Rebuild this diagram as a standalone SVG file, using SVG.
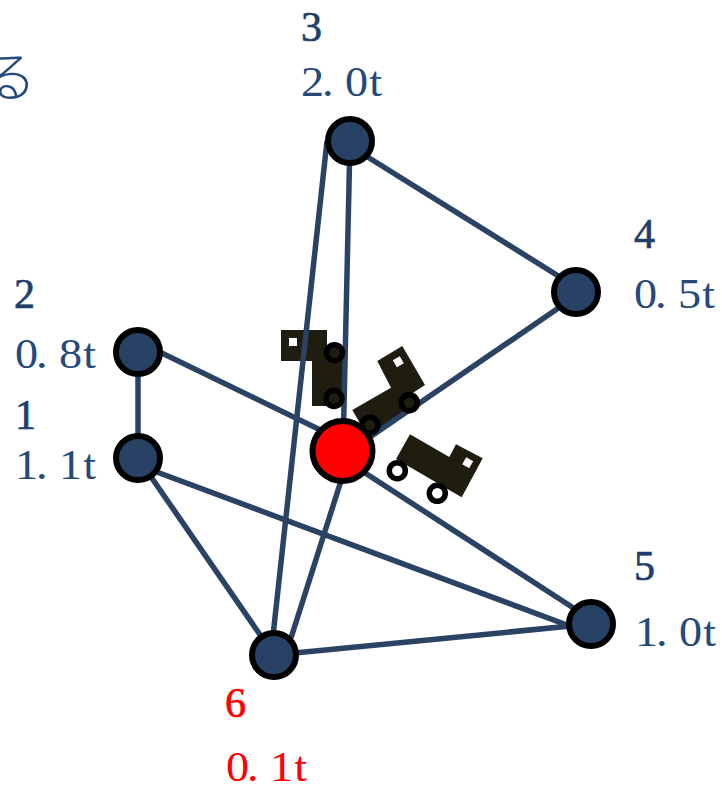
<svg xmlns="http://www.w3.org/2000/svg" width="722" height="785" viewBox="0 0 722 785">
<style>
.n{fill:#274264;stroke:#000;stroke-width:6}
.c{fill:#f00;stroke:#000;stroke-width:6}
.l{fill:none;stroke:#2a4365;stroke-width:5.500}
.t{fill:#1f1c10}
.w{fill:#fff}
.wd{fill:#1f1c10;stroke:#000;stroke-width:5.500}
.wl{fill:#fff;stroke:#000;stroke-width:5.500}
.v{font-family:'Liberation Serif',serif;font-size:42px;fill:#24497a}
.num{font-family:'Liberation Serif',serif;font-size:42px;fill:#1e3f6b;stroke:#1e3f6b;stroke-width:.7}
.red{fill:#f00}
.num.red{fill:#f00;stroke:#f00}
.frag{font-family:'Noto Sans CJK JP',sans-serif;font-size:54px;font-weight:300;fill:#24497a}
</style>
<text id="fragment" class="frag" x="-17.400" y="97">る</text>
<g id="truck-bodies">
<path class="t" d="M281 330H327V350H343V406H312V361H281Z"/>
<rect class="w" x="289" y="338" width="8" height="8"/>
<path class="t" d="M377.300 361L402.300 346L425 385L408 396L413 405L368 437L352.300 410L391 387.700Z"/>
<path class="t" d="M410 434.300L449.300 457L456 444.300L482.700 458.300L461.700 497.300L396 459Z"/>
<rect class="w" x="-4" y="-4" width="8" height="8" transform="translate(398.300 361.700) rotate(-30)"/>
<rect class="w" x="-4" y="-4" width="8" height="8" transform="translate(467.700 462.700) rotate(30)"/>
</g>
<g id="connectors">
<line class="l" x1="350" y1="146" x2="576" y2="287"/>
<line class="l" x1="350" y1="141" x2="343" y2="451"/>
<line class="l" x1="327" y1="141" x2="272" y2="645"/>
<line class="l" x1="343" y1="455.500" x2="576" y2="296"/>
<line class="l" x1="138" y1="341.500" x2="343" y2="441"/>
<line class="l" x1="138" y1="352" x2="138" y2="458"/>
<line class="l" x1="138" y1="458" x2="274" y2="655"/>
<line class="l" x1="138" y1="465" x2="575" y2="628"/>
<line class="l" x1="350.500" y1="451" x2="291" y2="638"/>
<line class="l" x1="342" y1="458" x2="575" y2="609"/>
<line class="l" x1="274" y1="655" x2="591" y2="624"/>
</g>
<g id="node1"><circle class="n" cx="138" cy="458" r="22"/>
<text class="num" x="15" y="429">1</text><text class="v" transform="translate(15 479) scale(1.1 1)" x="0 19 40 62">1.1t</text></g>
<g id="node2"><circle class="n" cx="138" cy="352" r="22"/>
<text class="num" x="14" y="308">2</text><text class="v" transform="translate(15 368) scale(1.1 1)" x="0 19 40 62">0.8t</text></g>
<g id="node3"><circle class="n" cx="350" cy="141" r="22"/>
<text class="num" x="301" y="41">3</text><text class="v" transform="translate(301 96) scale(1.1 1)" x="0 19 40 62">2.0t</text></g>
<g id="node4"><circle class="n" cx="576" cy="292" r="22"/>
<text class="num" x="634" y="248">4</text><text class="v" transform="translate(634 308) scale(1.1 1)" x="0 19 40 62">0.5t</text></g>
<g id="node5"><circle class="n" cx="591" cy="624" r="22"/>
<text class="num" x="634" y="580">5</text><text class="v" transform="translate(635 646) scale(1.1 1)" x="0 19 40 62">1.0t</text></g>
<g id="node6"><circle class="n" cx="274" cy="655" r="22"/>
<text class="num red" x="225" y="717">6</text><text class="v red" transform="translate(226 781) scale(1.1 1)" x="0 19 40 62">0.1t</text></g>
<g id="center"><circle class="c" cx="342.500" cy="451" r="30"/></g>
<g id="truck-wheels">
<circle class="wd" cx="334.500" cy="352.700" r="8"/>
<circle class="wd" cx="334" cy="398.500" r="8"/>
<circle class="wd" cx="409.300" cy="402.700" r="8"/>
<circle class="wd" cx="370" cy="425" r="8"/>
<circle class="wl" cx="397.300" cy="470.700" r="8"/>
<circle class="wl" cx="437.300" cy="493.300" r="8"/>
</g>
</svg>
